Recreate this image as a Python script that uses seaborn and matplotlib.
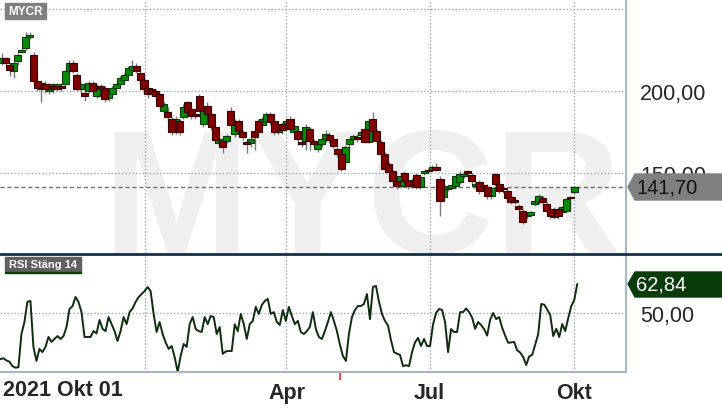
import numpy as np
import pandas as pd
import seaborn as sns
import matplotlib.pyplot as plt
import matplotlib.dates as mdates
from matplotlib.patches import Polygon, Rectangle
from matplotlib.lines import Line2D

sns.set_style("white")
plt.rcParams['font.family'] = ['Liberation Sans', 'DejaVu Sans']

# MYCR kurs (öppning, högsta, lägsta, stängning)
open_ = [217, 220, 216, 212, 218, 224, 226, 233, 222, 206,
         201, 204, 200, 203, 201, 203, 204, 212, 217, 210,
         201, 199, 200, 205, 197, 203, 202, 196, 198, 202,
         204, 207, 210, 213, 215, 211, 207, 202, 201, 200,
         198, 188, 187, 183, 175, 182, 184, 193, 189, 186,
         197, 180, 191, 186, 178, 168, 169.5, 169.5, 188, 174,
         182, 175, 169, 168, 175.5, 182, 179, 182, 186, 182,
         175, 180, 177, 183, 175, 175.5, 169, 169.5, 177, 169.5,
         164.5, 167.5, 170.5, 173, 170.5, 164.5, 161.5, 157, 167.5, 171,
         172, 173, 177, 169, 183, 175.5, 169, 161.5, 155.5, 151,
         145, 142, 150, 145, 142, 149, 141.5, 150, 152, 152,
         153.5, 146.5, 135.5, 140, 141, 142, 144.5, 148, 151, 149,
         142, 144.5, 142.5, 141.5, 136, 149.5, 143.5, 141, 139, 135.5,
         133.5, 130, 127, 123.5, 124.5, 131, 132, 135, 131, 128,
         123, 128, 126, 127, 135.5, 138.5]
high = [223, 221, 217, 218, 223, 226, 236, 236, 224, 208,
        206, 206, 205, 205, 205, 204, 213, 219, 219, 211,
        205, 200, 206, 206, 204, 204, 203, 201, 203, 205,
        209, 211, 215, 219, 217, 212, 208, 203, 202, 201,
        199, 193, 190, 184, 185, 183, 192, 194, 191, 187,
        198, 190, 193, 188, 179, 172, 171, 174, 190, 183,
        183, 176, 170, 172, 177, 183, 184, 187, 187, 184,
        179, 181, 183, 185, 180, 177, 170, 180, 178, 171,
        168, 171, 176, 175, 172, 166, 163, 167, 171, 174,
        174, 176, 178, 183, 187, 177, 170, 163, 157, 152,
        146, 150, 151, 146, 147, 150, 149, 152, 153, 155,
        156, 148, 143, 142, 144, 149, 151, 151, 152, 150,
        146, 146, 144, 143, 142, 150, 145, 142, 140, 137,
        134, 131, 128, 126, 127, 134, 137, 136, 132, 129,
        129, 129, 130, 135, 136, 142]
low = [216, 215, 209, 208, 216, 223, 225, 232, 205, 200,
       193, 199, 198, 199, 200, 200, 203, 211, 211, 200,
       199, 194, 199, 198, 196, 200, 193, 194, 197, 201,
       203, 206, 209, 212, 211, 205, 199, 196, 197, 195,
       189, 186, 182, 173, 174, 173, 183, 185, 183, 183,
       187, 178, 184, 176, 168, 166, 162, 168, 177, 172,
       174, 170, 162, 166, 164, 174, 178, 181, 179, 173,
       174, 174, 176, 176, 174, 167, 166, 164, 164, 166,
       163, 166, 169, 168, 165, 160, 151, 155, 166, 170,
       169, 172, 168, 168, 174, 168, 160, 151, 149, 144,
       140, 141, 144, 140, 141, 140, 140, 149, 150, 151,
       151, 124, 134, 139, 140, 141, 143, 147, 147, 143,
       141, 137, 140, 134, 134, 142, 138, 138, 134, 131,
       131, 127, 119, 122, 123, 130, 131, 128, 125, 122,
       122, 122, 125, 126, 128, 137]
close = [220, 217, 213, 217, 222, 225, 233, 234, 206, 202,
         205, 201, 204, 201, 204, 202, 212, 217, 212, 201,
         204, 197, 205, 200, 203, 201, 195, 200, 202, 204,
         208, 210, 214, 215, 212, 207, 201, 198, 199, 197,
         191, 192, 184, 175, 183, 175, 190, 187, 185, 185,
         188, 189, 186, 178, 170, 171, 166, 172.5, 179, 182,
         175.5, 172, 167.5, 171, 172, 175, 183, 186, 181, 175,
         178, 176, 182, 177, 178.5, 170.5, 167.5, 178, 169.5, 167.5,
         167.5, 170.5, 173.5, 170, 166.5, 161.5, 152.5, 166, 170.5, 172.5,
         171, 175, 169, 182, 175.5, 169.5, 161.5, 152.5, 150.5, 145,
         142, 148, 145, 142, 146, 141.5, 147.5, 151, 151.5, 153.5,
         152, 133, 142, 141, 142.5, 148, 149.5, 149.5, 150, 145,
         143.5, 139, 141.5, 136, 141, 143.5, 139, 140, 135, 132,
         132.5, 128, 120, 124.5, 126, 133, 136, 132, 127, 124,
         128, 124, 129, 134, 134.5, 141.7]

# RSI Stäng 14
rsi = [29.6, 30, 29, 28.5, 26.5, 25.8, 26, 40.7, 46, 55,
       55.3, 35, 28.8, 34.1, 32.7, 35, 39.4, 37.2, 38.5, 39.8,
       38.5, 39.8, 43.8, 51.8, 53, 57.1, 54.9, 50.4, 39.4, 39.4,
       39.4, 42, 41, 46.9, 43, 42, 48.2, 45.1, 42, 37.6,
       42, 48.2, 45.1, 50.4, 52, 54.9, 57, 58.4, 59.7, 61.5,
       59.7, 49.6, 41.6, 46, 40.7, 37, 34.1, 35.4, 30.5, 23.9,
       31, 36.3, 35, 45.1, 48.2, 42.9, 42, 41.6, 48.2, 45.1,
       48.7, 48.2, 40.7, 43.8, 31.9, 33, 33.2, 33.2, 45, 42,
       49.6, 45.1, 38.5, 45.1, 46.5, 52.7, 49.6, 53.5, 55.3, 56.2,
       49.6, 50.4, 46, 44.7, 51.3, 46.5, 52.7, 48.7, 45.1, 46.5,
       41.6, 40.7, 42, 43.8, 50.4, 42.9, 39.4, 38.5, 42, 46,
       50.4, 46.5, 42, 36, 31, 28.8, 40.7, 48.2, 51.3, 53.1,
       53.1, 54, 58.4, 47.3, 61.5, 62, 55, 49.6, 46.5, 44.5,
       38, 32.7, 32, 31.5, 26.5, 26.9, 26.5, 32.7, 37, 39,
       35.4, 38.5, 35.4, 35.4, 45, 50, 51.8, 51.3, 46, 32.7,
       42.9, 41.6, 41.6, 50.4, 50.4, 52, 50.4, 48, 43, 46,
       44.7, 42.9, 40, 47, 50, 47.3, 48.2, 43.5, 40, 36.8,
       37, 37.2, 33.5, 32.5, 30.5, 27, 30.8, 31.5, 36, 40.7,
       54, 53.7, 51.5, 49.1, 39.8, 43, 39.4, 45.1, 42, 47.8,
       53, 55.8, 62.84]

tick_dates = ["2022-01-01", "2022-04-01", "2022-07-01", "2022-10-01"]
tick_labels = ["", "Apr", "Jul", "Okt"]
price_ticks = [150, 200, 250]
price_labels = ["150,00", "200,00", ""]
rsi_ticks = [50]
rsi_labels = ["50,00"]
last_price = 141.70
last_rsi = 62.84
event_dates = ["2022-05-05"]

candle_x = mdates.date2num(pd.date_range("2021-10-02", "2022-10-01", periods=len(close)))
rsi_x = mdates.date2num(pd.date_range("2021-10-01", "2022-10-03", periods=len(rsi)))

df = pd.DataFrame({"x": candle_x, "open": open_, "high": high, "low": low, "close": close})
df["up"] = df["close"] >= df["open"]
df["bottom"] = df[["open", "close"]].min(axis=1)
df["body"] = (df["close"] - df["open"]).abs().clip(lower=0.6)

W, H = 722, 410
def box(l, t, r, b):
    return [l / W, 1 - b / H, (r - l) / W, (b - t) / H]

grid_col = "#9aa8b8"
border_col = "#a6b6c8"

fig = plt.figure(figsize=(7.22, 4.10), dpi=100)
ax = fig.add_axes(box(0, 0, 626, 254))
ax2 = fig.add_axes(box(0, 255, 626, 373), sharex=ax)

# vattenstämpel
ax.text(102 / 626, 0.004, "MYCR", transform=ax.transAxes, fontsize=127,
        fontweight="bold", color="#efefef", zorder=0, va="baseline", ha="left")

ax.axhline(last_price, color="#707070", lw=1, ls=(0, (3, 2)), zorder=1)
ax.vlines(df["x"], df["low"], df["high"], color="#7a7a7a", lw=1, zorder=2)
up = df[df["up"]]
dn = df[~df["up"]]
ax.bar(up["x"], up["body"], bottom=up["bottom"], width=4.5, color="#078a07",
       edgecolor="#0a3a0a", linewidth=0.8, zorder=3)
ax.bar(dn["x"], dn["body"], bottom=dn["bottom"], width=4.5, color="#800000",
       edgecolor="#3a0000", linewidth=0.8, zorder=3)

x0 = mdates.date2num(pd.Timestamp("2021-10-01")) - 0.25
x1 = mdates.date2num(pd.Timestamp("2022-11-03"))
ax.set_xlim(x0, x1)
ax.set_ylim(101.2, 256.1)
ax.set_axisbelow(True)
ax.grid(True, color=grid_col, ls=(0, (1, 1.5)), lw=1)
ax.yaxis.tick_right()
ax.set_yticks(price_ticks, price_labels)
ax.tick_params(axis="y", length=0, pad=10, labelsize=15.5)
ax.tick_params(axis="x", length=0, labelbottom=False)
for s in ax.spines.values():
    s.set_visible(False)
ax.spines["right"].set_visible(True)
ax.spines["right"].set_color(border_col)
ax.spines["right"].set_linewidth(1.5)

# RSI
sns.lineplot(x=rsi_x, y=rsi, ax=ax2, color="#0d2d0d", lw=1.4)
ax2.set_ylim(23.9, 76.1)
ax2.set_axisbelow(True)
ax2.grid(True, color=grid_col, ls=(0, (1, 1.5)), lw=1)
ax2.yaxis.tick_right()
ax2.set_yticks(rsi_ticks, rsi_labels)
ax2.tick_params(axis="y", length=0, pad=10, labelsize=15.5)
ax2.set_xticks(mdates.date2num(pd.to_datetime(tick_dates)), tick_labels, fontweight="bold")
ax2.tick_params(axis="x", length=6, width=1.2, color="#8ea2b6", pad=1.5, labelsize=15.5)
ax2.set_xlim(x0, x1)
ax2.set_xlabel("")
ax2.set_ylabel("")
for s in ["top", "left"]:
    ax2.spines[s].set_visible(False)
for s in ["bottom", "right"]:
    ax2.spines[s].set_color(border_col)
    ax2.spines[s].set_linewidth(1.5)
ax2.plot(mdates.date2num(pd.to_datetime(event_dates)), [23.9] * len(event_dates),
         marker=3, markersize=6, mew=1.5, color="#f05050", ls="none", clip_on=False)

fig.text(3 / W, 1 - 380.5 / H, "2021 Okt 01", fontsize=15.5, fontweight="bold",
         va="top", ha="left")

# avdelare mellan paneler
fig.add_artist(Line2D([0, 1], [1 - 254.5 / H] * 2, color="#12304a", lw=2))

def px(pts):
    return [(x / W, 1 - y / H) for x, y in pts]

# etiketter uppe till vänster
fig.add_artist(Rectangle((5 / W, 1 - 20 / H), 41 / W, 16 / H, color="#808080",
                         transform=fig.transFigure))
fig.text(25.5 / W, 1 - 12 / H, "MYCR", color="white", fontsize=8.5,
         fontweight="bold", ha="center", va="center")
fig.add_artist(Rectangle((5 / W, 1 - 273 / H), 76 / W, 15 / H, color="#606060",
                         transform=fig.transFigure))
fig.add_artist(Rectangle((5 / W, 1 - 274 / H), 76 / W, 1.5 / H, color="#0a3a0a",
                         transform=fig.transFigure))
fig.text(43 / W, 1 - 265.5 / H, "RSI Stäng 14", color="white", fontsize=8,
         fontweight="bold", ha="center", va="center")

# senaste värden
fig.add_artist(Polygon(px([(628, 188), (635, 175), (722, 175), (722, 201), (635, 201)]),
                       closed=True, color="#808080", transform=fig.transFigure))
fig.text(637 / W, 1 - 188 / H, f"{last_price:.2f}".replace(".", ","), fontsize=14.5,
         color="#111111", ha="left", va="center")
fig.add_artist(Polygon(px([(628, 285), (635, 273), (722, 273), (722, 298), (635, 298)]),
                       closed=True, color="#0b3b0b", transform=fig.transFigure))
fig.text(636 / W, 1 - 285.5 / H, f"{last_rsi:.2f}".replace(".", ","), fontsize=14.5,
         color="white", ha="left", va="center")

fig.savefig("out.png", dpi=100)
